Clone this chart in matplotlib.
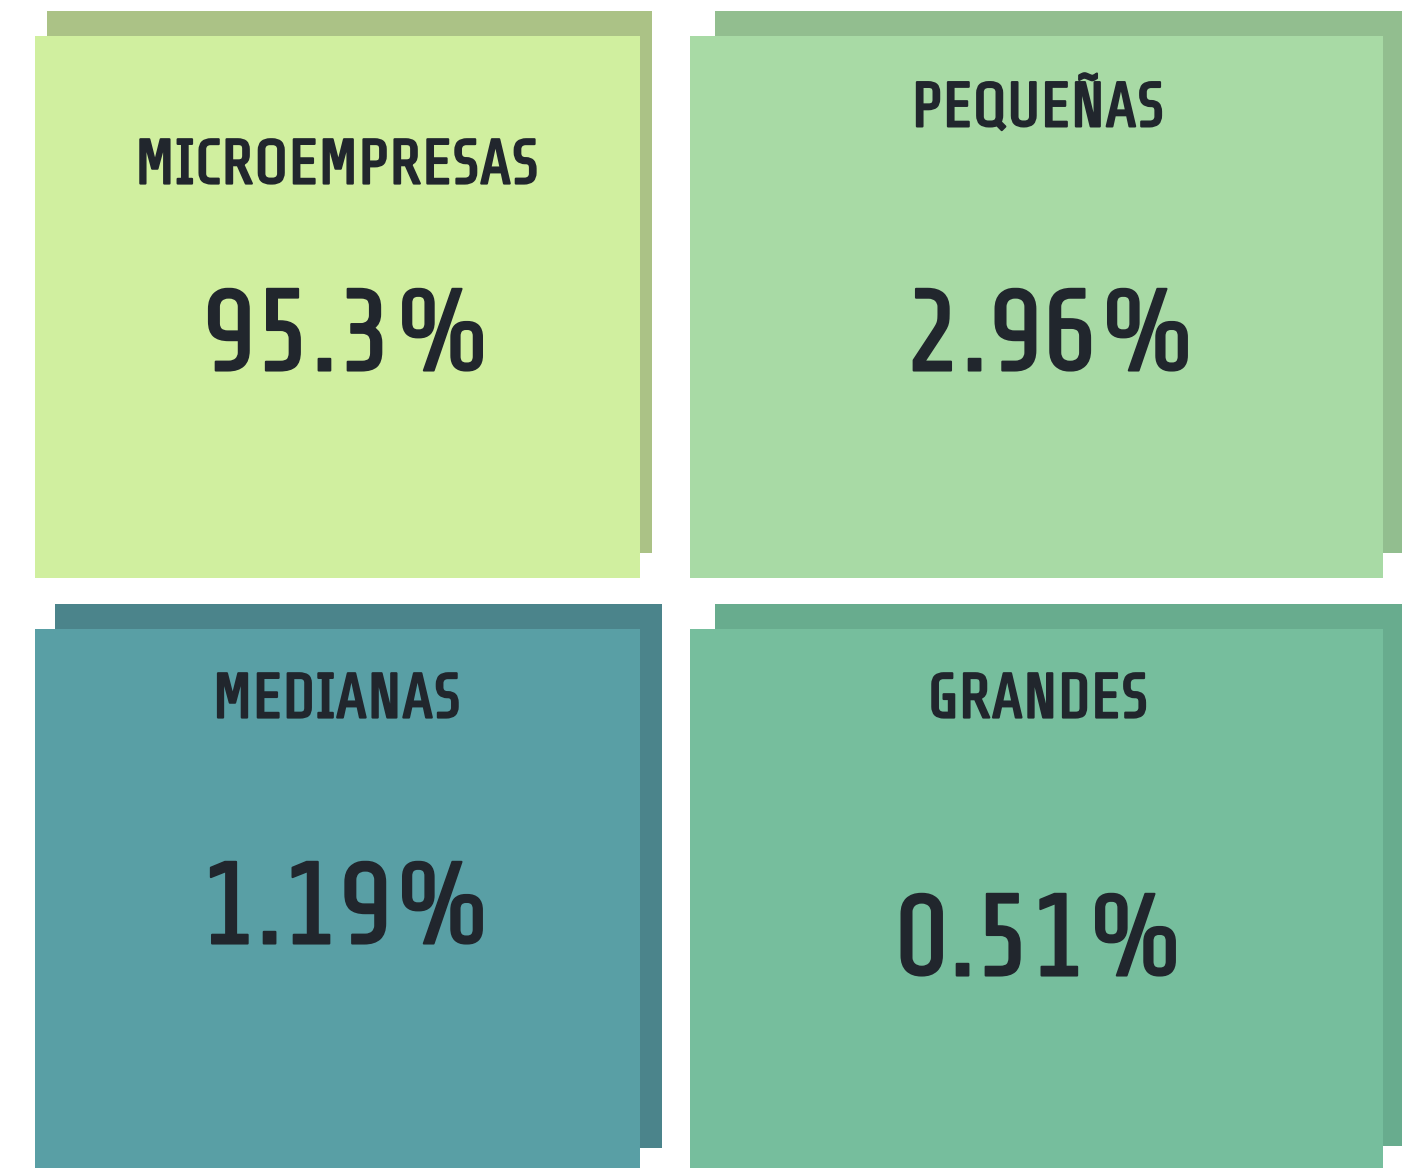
import matplotlib
matplotlib.use("Agg")
import matplotlib.pyplot as plt
from matplotlib.patches import Rectangle
import matplotlib.patheffects as pe

# Data
categories = ["MICROEMPRESAS", "PEQUEÑAS", "MEDIANAS", "GRANDES"]
values = [95.3, 2.96, 1.19, 0.51]
value_labels = ["95.3%", "2.96%", "1.19%", "0.51%"]

# Styles / layout (pixel coordinates)
front_colors = ["#D0EF9F", "#A8DAA5", "#599FA5", "#76BE9D"]
shadow_colors = ["#ABC286", "#92BE8F", "#4B848B", "#68AC8E"]
fronts = [(35, 36, 640, 578), (690, 36, 1383, 578), (35, 629, 640, 1175), (690, 629, 1383, 1175)]
shadows = [(47, 11, 652, 553), (715, 11, 1402, 553), (55, 604, 662, 1148), (715, 604, 1402, 1146)]
title_pos = [(337, 161), (1038, 103), (337, 695), (1038, 695)]
value_pos = [(347, 330), (1052, 330), (347, 903), (1040, 935)]

W, H = 1406, 1168
fig = plt.figure(figsize=(W / 100, H / 100), dpi=100)
ax = fig.add_axes([0, 0, 1, 1])
ax.set_xlim(0, W)
ax.set_ylim(H, 0)
ax.axis("off")

font = ["Share Tech", "DejaVu Sans"]
txt_color = "#21262D"
for i, cat in enumerate(categories):
    sx0, sy0, sx1, sy1 = shadows[i]
    ax.add_patch(Rectangle((sx0, sy0), sx1 - sx0, sy1 - sy0, facecolor=shadow_colors[i], edgecolor="none", zorder=1))
    fx0, fy0, fx1, fy1 = fronts[i]
    ax.add_patch(Rectangle((fx0, fy0), fx1 - fx0, fy1 - fy0, facecolor=front_colors[i], edgecolor="none", zorder=2))
    tx, ty = title_pos[i]
    ax.text(tx, ty, cat, ha="center", va="center_baseline", fontsize=45.5,
            family=font, color=txt_color, zorder=3,
            path_effects=[pe.withStroke(linewidth=1.6, foreground=txt_color)])
    vx, vy = value_pos[i]
    ax.text(vx, vy, value_labels[i], ha="center", va="center_baseline", fontsize=84,
            family=font, color=txt_color, zorder=3,
            path_effects=[pe.withStroke(linewidth=1.5, foreground=txt_color)])

fig.savefig("out.png", dpi=100, facecolor="white")
